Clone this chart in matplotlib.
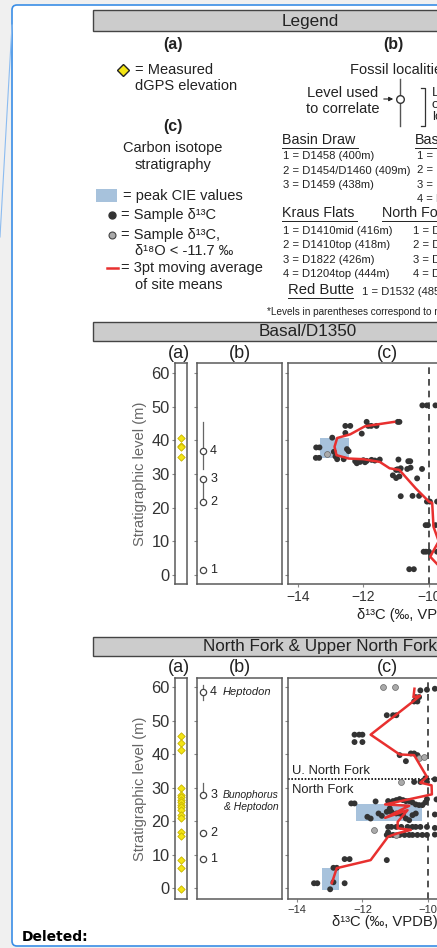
import matplotlib
matplotlib.use("Agg")
import matplotlib.pyplot as plt
from matplotlib.patches import Rectangle, FancyBboxPatch

plt.rcParams['font.family'] = ['Liberation Sans', 'DejaVu Sans']

W, H = 437, 948

# ---- data -----------------------------------------------------------------
# Basal/D1350 section
basal_gps = [40.7, 38.3, 37.9, 35.1]
basal_loc_levels = [1.5, 21.7, 28.5, 36.8]
basal_loc_names = ['1', '2', '3', '4']
basal_loc_ranges = [None, None, (22.5, 28.5), (31.5, 45.5)]
basal_pts = [(-10.2, 50.4), (-10.06, 50.4), (-9.8, 50.4),
             (-10.95, 45.5), (-10.9, 45.5), (-11.9, 45.5),
             (-11.85, 44.3), (-11.76, 44.3), (-11.6, 44.3), (-12.55, 44.3), (-12.4, 44.3),
             (-12.05, 42.0), (-12.55, 42.2), (-12.95, 40.8),
             (-13.44, 37.9), (-13.34, 37.9), (-12.5, 37.4), (-12.45, 36.8), (-12.9, 36.6),
             (-13.45, 34.8), (-13.35, 34.8), (-12.8, 34.4), (-12.6, 34.4), (-12.85, 35.2),
             (-12.25, 33.8), (-12.2, 33.2), (-12.1, 33.6), (-12.0, 34.1), (-11.95, 33.5),
             (-11.9, 33.9), (-11.75, 34.2), (-11.65, 34.0), (-11.5, 34.3),
             (-10.93, 34.3), (-10.63, 33.8), (-10.57, 33.8),
             (-10.96, 31.4), (-10.9, 31.2), (-11.0, 31.2), (-10.86, 31.7), (-10.66, 31.5),
             (-10.56, 31.9), (-10.21, 31.5),
             (-11.1, 29.6), (-11.0, 28.8), (-10.9, 29.3), (-10.36, 28.7),
             (-10.86, 23.4), (-10.5, 23.5), (-10.3, 23.5),
             (-10.06, 21.8), (-9.97, 21.8), (-9.75, 21.8),
             (-10.1, 14.8), (-10.03, 14.8), (-9.8, 14.8),
             (-10.16, 6.9), (-10.09, 6.9), (-10.0, 6.9), (-9.75, 6.9),
             (-10.6, 1.7), (-10.46, 1.7)]
basal_pts_o18 = [(-13.1, 35.8)]
basal_avg = [(-11.06, 45.5), (-11.95, 44.2), (-12.4, 41.8), (-12.8, 40.7), (-12.88, 38.1),
             (-12.82, 35.6), (-12.45, 34.6), (-12.0, 34.4), (-11.5, 33.6), (-11.2, 31.7),
             (-10.9, 31.2), (-10.4, 25.7), (-10.0, 21.8), (-9.9, 21.4), (-9.86, 14.3),
             (-9.7, 10.0), (-9.85, 7.4), (-9.96, 5.4), (-9.6, 1.7)]
basal_cie = [(-13.32, 34.8, -12.43, 40.8)]

# North Fork & Upper North Fork section
nf_gps = [45.4, 43.4, 41.1, 29.8, 27.8, 27.1, 26.3, 25.6, 24.8, 24.1, 23.3,
          21.8, 21.0, 16.7, 15.7, 8.4, 6.1, -0.2]
nf_loc_levels = [8.6, 16.4, 27.8, 58.5]
nf_loc_names = ['1', '2', '3', '4']
nf_loc_ranges = [None, None, (27.8, 31.3), (56.2, 60.5)]
nf_pts = [(-10.24, 59.0), (-10.04, 59.2), (-9.8, 59.5),
          (-10.38, 57.0), (-10.28, 57.0), (-10.43, 55.7), (-10.33, 55.7),
          (-11.26, 51.6), (-11.07, 51.6), (-10.97, 51.6),
          (-12.24, 45.8), (-12.1, 45.8), (-12.0, 45.8), (-12.24, 43.6), (-12.0, 43.6),
          (-10.87, 39.7), (-10.53, 40.2), (-10.43, 40.2), (-10.33, 39.7), (-10.68, 37.9),
          (-10.43, 31.7), (-10.24, 31.7), (-10.04, 31.7), (-10.09, 32.8), (-9.8, 32.5),
          (-12.34, 25.3), (-12.24, 25.3), (-11.6, 25.9),
          (-11.22, 26.0), (-11.07, 26.0), (-10.97, 26.3), (-10.87, 26.6), (-10.77, 26.3),
          (-10.68, 26.0), (-10.58, 26.0), (-10.48, 25.6), (-10.38, 25.0), (-10.28, 24.8),
          (-10.18, 24.8), (-10.09, 25.6), (-10.04, 26.6), (-9.75, 26.5),
          (-11.17, 23.8), (-11.26, 22.8), (-11.41, 21.6), (-11.51, 22.3), (-11.75, 20.8),
          (-11.85, 21.3), (-11.12, 22.8), (-10.97, 22.3), (-10.87, 22.3), (-10.77, 21.8),
          (-10.68, 20.8), (-10.58, 20.3), (-10.48, 21.8), (-10.38, 22.3), (-9.8, 22.0),
          (-11.22, 18.3), (-11.12, 18.3), (-10.97, 18.3), (-10.82, 18.3), (-10.63, 18.3),
          (-10.48, 18.3), (-10.38, 18.3), (-10.24, 18.3), (-10.04, 18.3), (-9.8, 18.0),
          (-11.26, 15.9), (-11.17, 15.9), (-11.07, 15.9), (-10.87, 15.9), (-10.72, 15.9),
          (-10.58, 15.9), (-10.48, 15.9), (-10.33, 15.9), (-10.18, 15.9), (-10.04, 15.9),
          (-11.22, 16.7), (-9.8, 16.0),
          (-11.26, 8.4), (-12.54, 8.7), (-12.39, 8.7), (-12.88, 6.1), (-12.78, 6.1),
          (-13.47, 1.5), (-13.37, 1.5), (-12.88, 1.8), (-12.54, 1.5), (-12.98, -0.3)]
nf_pts_o18 = [(-11.36, 60.0), (-11.02, 60.0), (-10.28, 38.7), (-10.14, 39.2),
              (-10.84, 31.7), (-11.66, 17.4), (-10.97, 15.8)]
nf_avg = [(-10.42, 59.5), (-10.45, 57.0), (-10.25, 57.4), (-10.45, 55.8), (-11.75, 45.8),
          (-10.87, 39.9), (-10.43, 39.7), (-10.04, 33.2), (-10.24, 31.5), (-9.9, 30.7),
          (-9.89, 28.0), (-11.31, 25.0), (-10.58, 24.6), (-11.31, 21.0), (-10.63, 23.3),
          (-10.93, 19.8), (-10.93, 17.9), (-10.53, 17.4), (-10.93, 16.4), (-11.22, 15.4),
          (-11.75, 8.4), (-12.78, 6.0), (-12.93, 1.5)]
nf_cie = [(-12.2, 20.0, -10.19, 25.0), (-13.24, -0.5, -12.71, 6.1)]
nf_boundary = 32.5

yticks = [0, 10, 20, 30, 40, 50, 60]
xticks = [-14, -12, -10, -8, -6]

# ---- styles ---------------------------------------------------------------
DARK = '#333333'
SPINE = '#5a5a5a'
RED = '#e8302f'
CIE = '#a7c2dc'
HEADER = '#cccccc'
YELLOW = '#f4e514'

fig = plt.figure(figsize=(W / 100, H / 100), dpi=100)
fig.patch.set_facecolor('#f0f0f0')

page = fig.add_axes([0, 0, 1, 1], zorder=0)
page.set_xlim(0, W)
page.set_ylim(H, 0)
page.axis('off')

# comment balloon and its connector
page.add_patch(FancyBboxPatch((12, 5), 520, 941, boxstyle='round,pad=0,rounding_size=5',
                              facecolor='white', edgecolor='#3a8ee6', lw=1.2))
page.plot([12, 0], [25, 237], color='#8cbcf0', lw=0.8)
page.text(22, 937, 'Deleted:', fontsize=10, fontweight='bold', family='DejaVu Sans',
          va='center', ha='left', color='black')


def px_axes(x0, y0, x1, y1):
    return fig.add_axes([x0 / W, 1 - y1 / H, (x1 - x0) / W, (y1 - y0) / H], zorder=2)


def header(y0, y1, label, xc):
    page.add_patch(Rectangle((93, y0), 500, y1 - y0, facecolor=HEADER, edgecolor='#444444', lw=1))
    page.text(xc, (y0 + y1) / 2 + 0.5, label, fontsize=12.3, ha='center', va='center',
              color='#222222')


def underlined(x, y, s, size, width):
    page.text(x, y, s, fontsize=size, ha='left', va='center', color='#222222')
    page.plot([x, x + width], [y + 8, y + 8], color='#222222', lw=0.7)


def txt(x, y, s, size=10.5, ha='left', **kw):
    page.text(x, y, s, fontsize=size, ha=ha, va='center', color='#222222', **kw)


# ---- legend ---------------------------------------------------------------
header(10, 31, 'Legend', 310)
txt(173, 44, '(a)', 11.5, ha='center', fontweight='bold')
txt(393, 44, '(b)', 11.5, ha='center', fontweight='bold')
page.plot([123], [70], marker='D', ms=6.5, mfc=YELLOW, mec='#222222', mew=1)
txt(135, 70, '= Measured')
txt(135, 86, 'dGPS elevation')

txt(350, 70, 'Fossil localities')
txt(343, 93, 'Level used', 10.5, ha='center')
txt(343, 109, 'to correlate', 10.5, ha='center')
page.plot([400, 400], [79, 126], color='#555555', lw=1)
page.plot([400], [99], marker='o', ms=5.5, mfc='white', mec='#333333', mew=1)
page.annotate('', xy=(396, 99), xytext=(381, 99),
              arrowprops=dict(arrowstyle='-|>', lw=0.8, color='#222222', mutation_scale=6))
page.plot([421, 425, 425, 421], [88, 88, 126, 126], color='#333333', lw=0.9)
txt(432, 93, 'Level range', 9.5)
txt(432, 105, 'of fossil', 9.5)
txt(432, 117, 'locality', 9.5)

txt(173, 126, '(c)', 11.5, ha='center', fontweight='bold')
txt(173, 148, 'Carbon isotope', ha='center')
txt(173, 165, 'stratigraphy', ha='center')

page.add_patch(Rectangle((96, 189), 21, 13, facecolor=CIE, edgecolor='none'))
txt(123, 196, '= peak CIE values')
page.plot([112], [215], marker='o', ms=5, color='#333333')
txt(121, 215, '= Sample δ¹³C')
page.plot([112], [235], marker='o', ms=5, mfc='#aaaaaa', mec='#444444', mew=0.8)
txt(121, 235, '= Sample δ¹³C,')
txt(135, 251, 'δ¹⁸O < -11.7 ‰')
page.plot([107, 118], [268, 268], color=RED, lw=1.8)
txt(121, 268, '= 3pt moving average')
txt(135, 285, 'of site means')

underlined(282, 140, 'Basin Draw', 10.3, 76)
for i, s in enumerate(['1 = D1458 (400m)', '2 = D1454/D1460 (409m)', '3 = D1459 (438m)']):
    txt(283, 156 + i * 14.5, s, 8.1)
underlined(415, 140, 'Basal/D1350', 10.3, 76)
for i in range(4):
    txt(417, 156 + i * 14.3, f'{i + 1} = D', 8.1)

underlined(282, 213, 'Kraus Flats', 10.3, 75)
for i, s in enumerate(['1 = D1410mid (416m)', '2 = D1410top (418m)',
                       '3 = D1822 (426m)', '4 = D1204top (444m)']):
    txt(283, 231 + i * 14.4, s, 8.1)
underlined(382, 213, 'North Fork', 10.3, 70)
for i in range(4):
    txt(413, 231 + i * 14.4, f'{i + 1} = D', 8.1)

underlined(288, 290, 'Red Butte', 10.6, 65)
txt(362, 292, '1 = D1532 (485m)', 8.1)
txt(267, 312, '*Levels in parentheses correspond to meter levels', 7.2)


# ---- stratigraphic panels -------------------------------------------------
def section(top, title, title_x, gps, loc_levels, loc_names, loc_ranges, loc_notes,
            pts, pts_o18, avg, cie, ylims, xlims, xlab_x, xlab_y, tick_size, boundary=None):
    bottom = top + 221
    header(top - 41, top - 22, title, title_x)
    for lab, x in [('(a)', 179), ('(b)', 240), ('(c)', 387)]:
        txt(x, top - 10, lab, 13, ha='center')

    ax_a = px_axes(175, top, 187, bottom)
    ax_b = px_axes(197, top, 282, bottom)
    ax_c = px_axes(288, top, 560, bottom)
    for ax in (ax_a, ax_b, ax_c):
        ax.set_ylim(*ylims)
        ax.set_yticks(yticks)
        for sp in ax.spines.values():
            sp.set_color(SPINE)
            sp.set_linewidth(1.1)
        ax.tick_params(axis='y', direction='out', length=2, color='#888888', labelleft=False)
        ax.tick_params(axis='x', bottom=False, labelbottom=False)

    # (a) dGPS elevations
    ax_a.set_xlim(0, 1)
    ax_a.scatter([0.5] * len(gps), gps, marker='D', s=14, c=YELLOW,
                 edgecolors='#c8b400', linewidths=0.6, zorder=3)
    ax_a.tick_params(axis='y', labelleft=True, labelsize=11.8, labelcolor='#333333', pad=2)
    ax_a.set_ylabel('Stratigraphic level (m)', fontsize=10.6, color='#666666', labelpad=3)

    # (b) fossil localities
    ax_b.set_xlim(0, 1)
    for lev, name, rng, note in zip(loc_levels, loc_names, loc_ranges, loc_notes):
        if rng is not None:
            ax_b.plot([0.07, 0.07], rng, color='#666666', lw=0.9, zorder=2)
        ax_b.plot([0.07], [lev], marker='o', ms=4.5, mfc='white', mec='#444444', mew=0.9, zorder=3)
        ax_b.text(0.155, lev, name, fontsize=9, va='center', color='#222222')
        if note:
            lines = note.split('\n')
            if len(lines) == 1:
                ax_b.text(0.305, lev, lines[0], fontsize=8, va='center', color='#222222',
                          style='italic')
            else:
                for k, line in enumerate(lines):
                    ax_b.text(0.965, lev - 3.5 * k, line, fontsize=7.5, va='center',
                              ha='right', color='#222222', style='italic')

    # (c) carbon isotope stratigraphy
    ax_c.set_xlim(*xlims)
    for x0, y0, x1, y1 in cie:
        ax_c.add_patch(Rectangle((x0, y0), x1 - x0, y1 - y0, facecolor=CIE,
                                 edgecolor='none', zorder=1))
    ax_c.axvline(-10, color='#333333', lw=1.2, dashes=(4, 3), zorder=1)
    ax_c.scatter([p[0] for p in pts], [p[1] for p in pts], s=18, c='#333333',
                 edgecolors='none', zorder=3)
    ax_c.scatter([p[0] for p in pts_o18], [p[1] for p in pts_o18], s=18, c='#aaaaaa',
                 edgecolors='#666666', linewidths=0.5, zorder=3)
    ax_c.plot([p[0] for p in avg], [p[1] for p in avg], color=RED, lw=1.8,
              solid_joinstyle='round', zorder=4)
    if boundary is not None:
        ax_c.axhline(boundary, color='black', lw=1.2, ls=(0, (1, 1)), zorder=2)
        ax_c.text(-14.15, boundary + 2.4, 'U. North Fork', fontsize=9.4, color='#222222',
                  va='center')
        ax_c.text(-14.15, boundary - 3.3, 'North Fork', fontsize=9.4, color='#222222',
                  va='center')
    ax_c.set_xticks(xticks)
    ax_c.set_xticklabels(['\u221214', '\u221212', '\u221210', '\u22128', '\u22126'])
    ax_c.tick_params(axis='x', bottom=True, labelbottom=True, direction='out', length=2,
                     color='#888888', labelsize=tick_size, labelcolor='#333333', pad=2)
    txt(xlab_x, xlab_y, 'δ¹³C (‰, VPDB)', 10.6, ha='center')


section(363, 'Basal/D1350', 308, basal_gps, basal_loc_levels, basal_loc_names,
        basal_loc_ranges, [None] * 4, basal_pts, basal_pts_o18, basal_avg, basal_cie,
        (-2.7, 63), (-14.3, -6.18), 410, 615, 10)

section(678, 'North Fork & Upper North Fork', 320, nf_gps, nf_loc_levels, nf_loc_names,
        nf_loc_ranges, [None, None, 'Bunophorus\n& Heptodon', 'Heptodon'],
        nf_pts, nf_pts_o18, nf_avg, nf_cie,
        (-3.2, 62.7), (-14.26, -6.26), 385, 922, 8, boundary=nf_boundary)

fig.savefig('out.png', dpi=100)
